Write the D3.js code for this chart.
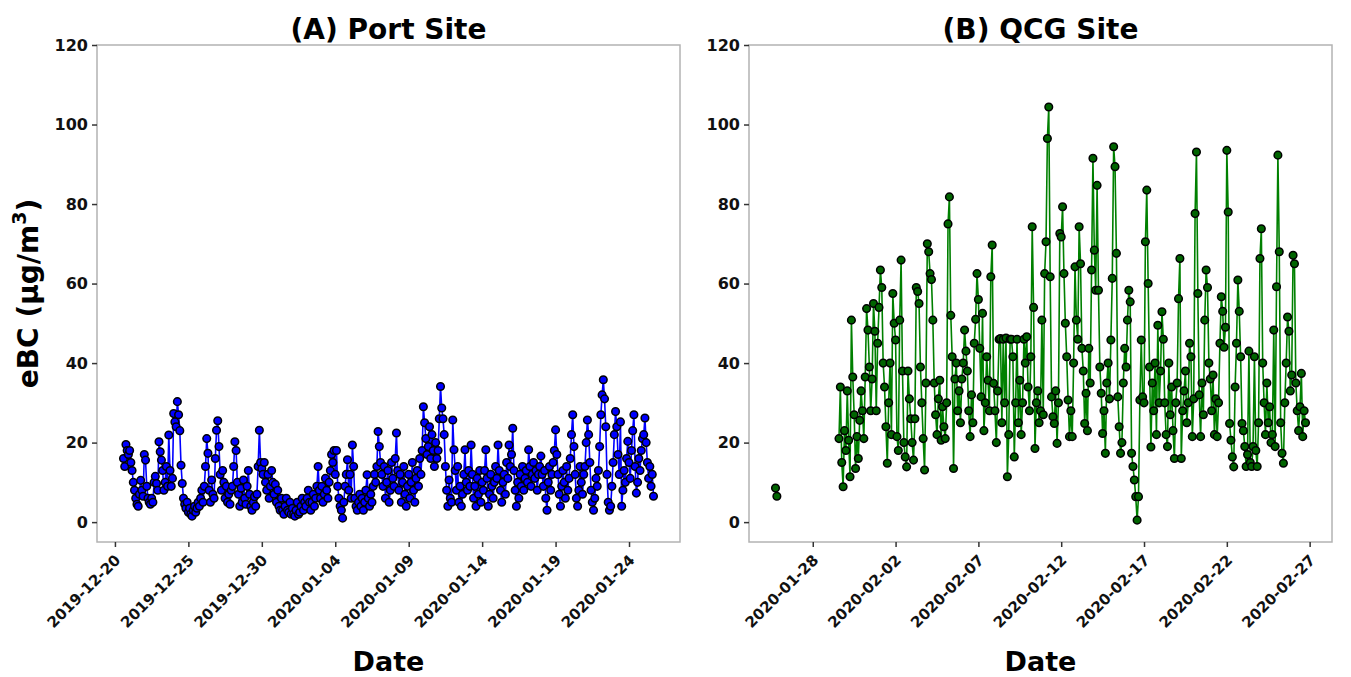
<!DOCTYPE html>
<html>
<head>
<meta charset="utf-8">
<script src="https://cdn.jsdelivr.net/npm/d3@7"></script>
<style>
  html, body { margin: 0; padding: 0; background: #fff; }
  svg { display: block; font-family: "DejaVu Sans", sans-serif; }
</style>
</head>
<body>
<svg id="chart" width="1351" height="677"></svg>
<script>
// ---------------- DATA ----------------
const yTicks = [0, 20, 40, 60, 80, 100, 120];

const portTicks = ["2019-12-20", "2019-12-25", "2019-12-30", "2020-01-04",
                   "2020-01-09", "2020-01-14", "2020-01-19", "2020-01-24"];
const qcgTicks = ["2020-01-28", "2020-02-02", "2020-02-07", "2020-02-12",
                  "2020-02-17", "2020-02-22", "2020-02-27"];

const stepHours = 2;

// Port site eBC (µg/m3), 2-hourly from 2019-12-20 14:00 (one row per day)
const portStart = "2019-12-20T14:00:00";
const portValues = [
  16, 14, 19.5, 18, 17,
  18, 15, 13, 10, 8, 6, 4.5, 4, 7, 10.5, 8, 6.5,
  17, 15.6, 9, 6, 5, 4.5, 6, 5, 10, 11.5, 9.7, 8,
  20.2, 17.7, 15.6, 13, 8, 10, 14, 9, 21.9, 13, 9, 11,
  27.3, 25.2, 24, 30.3, 27, 23, 14.3, 9.7, 6, 4.5, 3.5, 5,
  2.5, 3.5, 2, 1.5, 3, 4, 2.5, 3.5, 5, 4, 6, 8,
  5, 9, 14, 21, 17.3, 8, 5, 10.6, 7, 6, 16, 23.1,
  25.5, 19, 12, 8, 13, 10, 6, 9, 5, 7, 4.5, 8,
  9, 14, 20.2, 18, 10, 7, 4, 8.5, 5, 10.6, 6, 4.5,
  9, 13, 7, 4, 3, 5, 6.4, 4, 7, 14, 23.1, 15,
  13.5, 12, 15, 10, 8, 12, 6, 9, 13, 10, 7, 9.5,
  5, 8, 4, 3, 6, 3, 2, 4, 6, 3, 2.5, 5,
  2, 3.5, 2, 1.5, 3, 5, 2, 2.5, 4, 6, 3, 5,
  4, 6, 8, 5, 3, 5, 7, 4, 6, 9, 14, 8,
  6, 9, 5, 7, 11, 8, 6, 10, 13, 17, 15, 18,
  12, 18, 9, 6, 4, 3, 1, 5, 9, 12, 15.7, 8,
  12, 6, 19.4, 14, 6, 4, 3, 5, 7, 4, 6, 3,
  5, 8, 11.9, 6, 4, 7, 5, 9, 12, 10, 14, 22.8,
  19, 15, 12, 9, 14, 6, 10, 13, 5, 8, 15, 11,
  9, 16, 22.4, 13, 8, 12, 5, 10, 14, 7, 4, 9,
  12, 6, 10, 15, 8, 5, 11, 13, 9, 16, 12, 18,
  29, 25, 21, 17, 19, 24, 16, 22, 18, 14, 20, 16,
  18, 26, 34.1, 28.7, 26, 22, 14, 8, 4, 10.6, 6, 5,
  25.7, 18.2, 13, 8, 14, 5, 9, 4, 7, 12, 18.2, 10,
  8, 13, 9, 19.4, 12, 6, 9, 4, 11, 7, 13, 5,
  10, 8, 13, 18.2, 11, 4, 7, 12, 9, 6, 10, 14,
  11, 19.4, 13, 8, 5, 10, 12, 7, 15, 11, 19.4, 14,
  17, 23.6, 13, 8, 4, 10, 6, 12, 9, 14, 8, 11,
  13, 10, 18.2, 14, 9, 12, 15, 11, 13, 8, 12, 14,
  16.6, 12, 9, 13, 6, 3, 10, 14, 8, 12, 15, 18,
  23.2, 17, 12, 7, 4, 9, 13, 10, 6, 14, 8, 11,
  16, 22, 27, 19, 12, 6, 4, 8, 14, 10, 7, 12,
  14, 20, 25.7, 22, 15, 8, 5, 3, 6, 11, 9, 13,
  19, 27, 32, 35.8, 31, 24, 12, 5, 3, 4, 9, 15,
  22, 27.8, 24, 17, 12, 25.2, 4, 8, 13, 10, 16, 20.3,
  15, 11, 18, 23, 27, 14, 7.3, 10, 16, 13, 18, 21,
  22, 26.2, 20, 15, 11, 14, 9, 12, 6.5
];

// QCG site eBC (µg/m3): short early segment, then 2-hourly from 2020-01-29 14:00
const qcgStartA = "2020-01-25T18:00:00";
const qcgValuesA = [8.6, 6.5];
const qcgStartB = "2020-01-29T14:00:00";
const qcgValuesB = [
  21, 34, 15, 8.9, 23,
  18, 33, 20.6, 11.4, 50.8, 36.5, 27, 13.5, 21.5, 16, 25.6, 33,
  28, 21, 36.5, 53.7, 48.3, 39, 28, 36, 55, 48, 28, 45,
  54, 63.4, 59, 40, 34, 24, 14.8, 30, 40, 22, 57.5, 50,
  45.8, 21.5, 18, 50.8, 65.9, 38, 20, 16.4, 13.9, 38, 31, 26,
  20, 15.6, 26, 59, 58, 55, 39, 30, 21, 13.1, 35, 70,
  68, 62.5, 61, 50.8, 35, 27, 22, 31, 35.7, 20.6, 29, 24,
  21, 30, 75, 81.8, 52, 41.6, 13.5, 36, 40, 28, 33, 25,
  36, 40, 48.3, 43, 38, 28, 21.5, 32, 25, 45, 51, 62.5,
  56, 43.7, 31.5, 52.5, 23, 30, 41.6, 35.7, 28, 61.7, 69.7, 34.9,
  28, 20, 33, 46, 46.2, 25, 46, 30, 46.3, 11.4, 22, 46,
  46, 41.6, 16.4, 30, 46, 25, 35.7, 22, 30, 46, 40, 46.6,
  34, 28, 41.6, 74.3, 54, 18.5, 30, 33, 25, 28, 50.8, 27,
  62.5, 70.5, 96.5, 104.4, 61.7, 31.5, 26.5, 24.8, 33, 19.8, 30, 72.6,
  71.7, 79.3, 62.5, 50, 41.6, 30.7, 21.5, 28, 21.5, 40, 64.2, 50.8,
  46, 74.3, 65, 43.7, 38, 24.8, 32.4, 23, 43.7, 35, 63.4, 91.5,
  68.4, 58.3, 84.7, 58.3, 39, 32.4, 22.3, 28, 17.3, 35, 40, 31,
  45.8, 61.3, 94.4, 89.4, 67.6, 31.5, 24, 17.3, 20, 35, 43.7, 39,
  50.8, 58.3, 55.4, 17.3, 14, 10.6, 6.4, 0.5, 6.4, 30.7, 45.8, 31.5,
  30, 70.5, 83.5, 60, 39, 18.9, 35, 28, 40, 22, 49.5, 30,
  38, 52.9, 46, 30, 22, 19, 40, 27, 34, 23, 16, 30,
  35, 56.2, 66.3, 16, 28, 33, 38, 25, 30, 45, 41.6, 21.5,
  31, 77.6, 93.1, 57.5, 32, 21.5, 35, 27, 50.8, 63.4, 59, 40,
  36, 28, 37, 22, 31, 21.5, 30, 45, 56.7, 53, 44, 49,
  93.5, 78, 24.8, 20.6, 16.4, 13.9, 34, 45, 60.9, 53, 41.6, 24.8,
  23, 19, 14, 17, 43, 15, 14, 19, 41.6, 18, 14, 25,
  66.3, 73.8, 40, 30, 22, 35, 25, 29, 20, 22, 48.3, 19,
  59.2, 92.3, 68, 25, 17.3, 14.8, 30, 40, 51.6, 48, 33, 37,
  67.1, 65, 35, 28, 23, 29, 37.4, 21.5, 28, 25
];

// ---------------- HELPERS ----------------
const parseDT = d3.isoParse;
const parseDay = d3.timeParse("%Y-%m-%d");
function series(start, values) {
  const t0 = parseDT(start);
  return values.map((v, i) => ({ t: d3.timeHour.offset(t0, i * stepHours), v }));
}

const portData = [series(portStart, portValues)];
const qcgData = [series(qcgStartA, qcgValuesA), series(qcgStartB, qcgValuesB)];

const svg = d3.select("#chart");
const plotTop = 45, plotBottom = 542;

const y = d3.scaleLinear().domain([-5, 120]).range([plotBottom, plotTop]);

const panels = [
  { title: "(A) Port Site", segs: portData, ticks: portTicks, left: 97, right: 680,
    line: "#0000ff", fill: "#0000ff" },
  { title: "(B) QCG Site", segs: qcgData, ticks: qcgTicks, left: 749, right: 1332,
    line: "#008000", fill: "#006400" }
];

panels.forEach((p, pi) => {
  const all = p.segs.flat();
  const ext = d3.extent(all, d => d.t);
  const span = ext[1] - ext[0];
  const x = d3.scaleTime()
    .domain([new Date(+ext[0] - 0.05 * span), new Date(+ext[1] + 0.05 * span)])
    .range([p.left, p.right]);

  const g = svg.append("g");

  // frame
  g.append("rect")
    .attr("x", p.left).attr("y", plotTop)
    .attr("width", p.right - p.left).attr("height", plotBottom - plotTop)
    .attr("fill", "none").attr("stroke", "#b3b3b3").attr("stroke-width", 1.5);

  // y axis
  const ya = g.append("g").attr("transform", `translate(${p.left},0)`)
    .call(d3.axisLeft(y).tickValues(yTicks).tickSize(5).tickPadding(4).tickFormat(d3.format("d")));
  ya.select(".domain").remove();
  ya.selectAll(".tick line").attr("stroke", "#333").attr("stroke-width", 1.5);
  ya.selectAll(".tick text").attr("font-size", 16).attr("font-weight", "bold")
    .attr("fill", "#111").attr("font-family", "DejaVu Sans");

  // x axis
  const xa = g.append("g").attr("transform", `translate(0,${plotBottom})`)
    .call(d3.axisBottom(x).tickValues(p.ticks.map(parseDay)).tickSize(5)
      .tickFormat(d3.timeFormat("%Y-%m-%d")));
  xa.select(".domain").remove();
  xa.selectAll(".tick line").attr("stroke", "#333").attr("stroke-width", 1.5);
  xa.selectAll(".tick text")
    .attr("font-size", 15).attr("font-weight", "bold").attr("fill", "#111")
    .attr("font-family", "DejaVu Sans")
    .attr("text-anchor", "end")
    .attr("y", 0).attr("dy", 0)
    .attr("transform", "translate(6,19) rotate(-45)");

  // lines
  const line = d3.line().x(d => x(d.t)).y(d => y(d.v));
  p.segs.forEach(s => {
    g.append("path").datum(s).attr("d", line)
      .attr("fill", "none").attr("stroke", p.line).attr("stroke-width", 1.6)
      .attr("stroke-linejoin", "round");
  });
  // markers
  g.append("g").selectAll("circle").data(all).join("circle")
    .attr("cx", d => x(d.t)).attr("cy", d => y(d.v)).attr("r", 3.8)
    .attr("fill", p.fill).attr("stroke", "#000").attr("stroke-width", 1.5);

  // title
  g.append("text").attr("x", (p.left + p.right) / 2).attr("y", 39)
    .attr("text-anchor", "middle").attr("font-size", 28).attr("font-weight", "bold")
    .attr("fill", "#000").text(p.title);

  // x label
  g.append("text").attr("x", (p.left + p.right) / 2).attr("y", 671)
    .attr("text-anchor", "middle").attr("font-size", 27).attr("font-weight", "bold")
    .attr("fill", "#000").text("Date");

  if (pi === 0) {
    const yl = g.append("text")
      .attr("transform", `translate(38,${(plotTop + plotBottom) / 2}) rotate(-90)`)
      .attr("text-anchor", "middle").attr("font-size", 28).attr("font-weight", "bold")
      .attr("fill", "#000");
    yl.append("tspan").text("eBC (μg/m");
    yl.append("tspan").attr("dy", -12).attr("font-size", 19).text("3");
    yl.append("tspan").attr("dy", 12).text(")");
  }
});
</script>
</body>
</html>
